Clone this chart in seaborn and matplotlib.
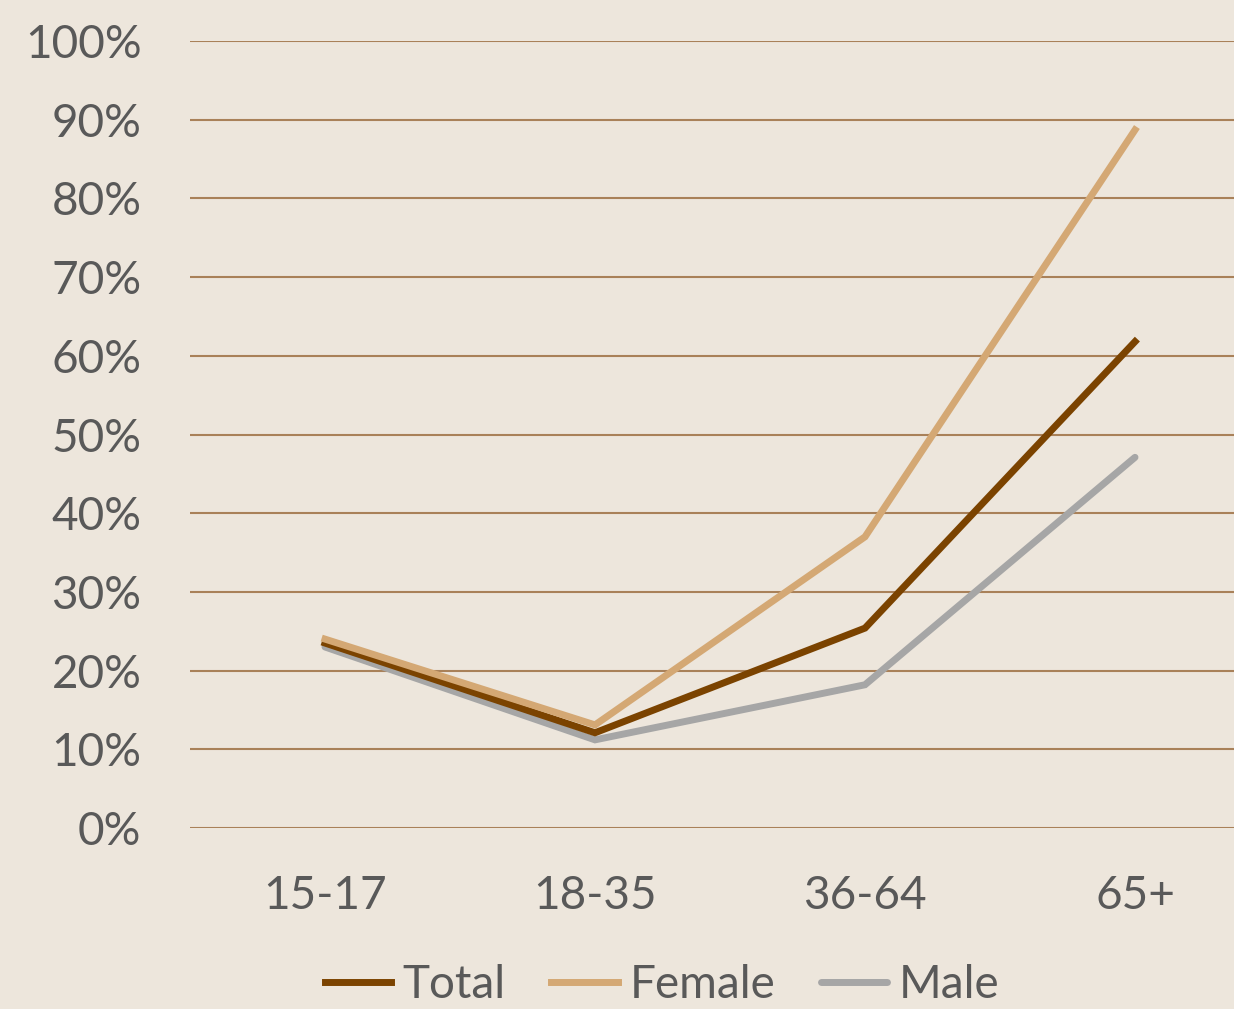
import matplotlib
matplotlib.use("Agg")
import matplotlib.pyplot as plt
import seaborn as sns
import pandas as pd
from matplotlib.lines import Line2D

age_groups = ["15-17", "18-35", "36-64", "65+"]
total = [0.235, 0.121, 0.254, 0.618]
female = [0.240, 0.131, 0.370, 0.887]
male = [0.230, 0.112, 0.182, 0.471]

series_names = ["Total", "Female", "Male"]
colors = {"Total": "#7B4300", "Female": "#D4A874", "Male": "#A6A6A6"}
bg = "#EDE6DC"
text_color = "#595959"
grid_color = "#A98159"

df = pd.DataFrame({
    "age": age_groups * 3,
    "x": list(range(len(age_groups))) * 3,
    "value": total + female + male,
    "series": ["Total"] * 4 + ["Female"] * 4 + ["Male"] * 4,
})

sns.set_theme(style="white")
plt.rcParams["font.family"] = ["Lato", "DejaVu Sans"]

fig = plt.figure(figsize=(12.34, 10.09), dpi=100, facecolor=bg)
ax = fig.add_axes([190 / 1234, 181 / 1009, 1080 / 1234, 787 / 1009])
ax.set_facecolor(bg)

sns.lineplot(data=df, x="x", y="value", hue="series", hue_order=series_names,
             palette=colors, linewidth=5, ax=ax, legend=False, sort=False)

# stacking: male underneath, female on top
zorders = {"Total": 3, "Female": 4, "Male": 2}
caps = {"Total": "projecting", "Female": "projecting", "Male": "round"}
for line, name in zip(ax.get_lines(), series_names):
    line.set_zorder(zorders[name])
    line.set_solid_capstyle(caps[name])
    line.set_solid_joinstyle("miter")

ax.set_xlim(-0.5, 3.5)
ax.set_ylim(0, 1)
ax.set_yticks([i / 10 for i in range(11)])
ax.set_yticklabels([f"{i * 10}%" for i in range(11)])
ax.set_xticks(range(len(age_groups)))
ax.set_xticklabels(age_groups)
ax.yaxis.grid(True, color=grid_color, linewidth=1.5)
ax.set_axisbelow(True)
ax.set_xlabel("")
ax.set_ylabel("")
for s in ax.spines.values():
    s.set_visible(False)
ax.tick_params(axis="both", length=0, labelsize=33, colors=text_color)
ax.tick_params(axis="y", pad=35)
ax.tick_params(axis="x", pad=34)
for lbl in ax.get_xticklabels() + ax.get_yticklabels():
    lbl.set_color(text_color)

handles = [Line2D([0], [0], color=colors[n], linewidth=5,
                  solid_capstyle=caps[n]) for n in series_names]
leg = fig.legend(handles, series_names, loc="center", ncol=3,
                 bbox_to_anchor=(662 / 1234, 24 / 1009), frameon=False,
                 fontsize=33, handlelength=1.45, handletextpad=0.25,
                 columnspacing=1.0)
for t in leg.get_texts():
    t.set_color(text_color)

fig.savefig("out.png", dpi=100, facecolor=bg)
